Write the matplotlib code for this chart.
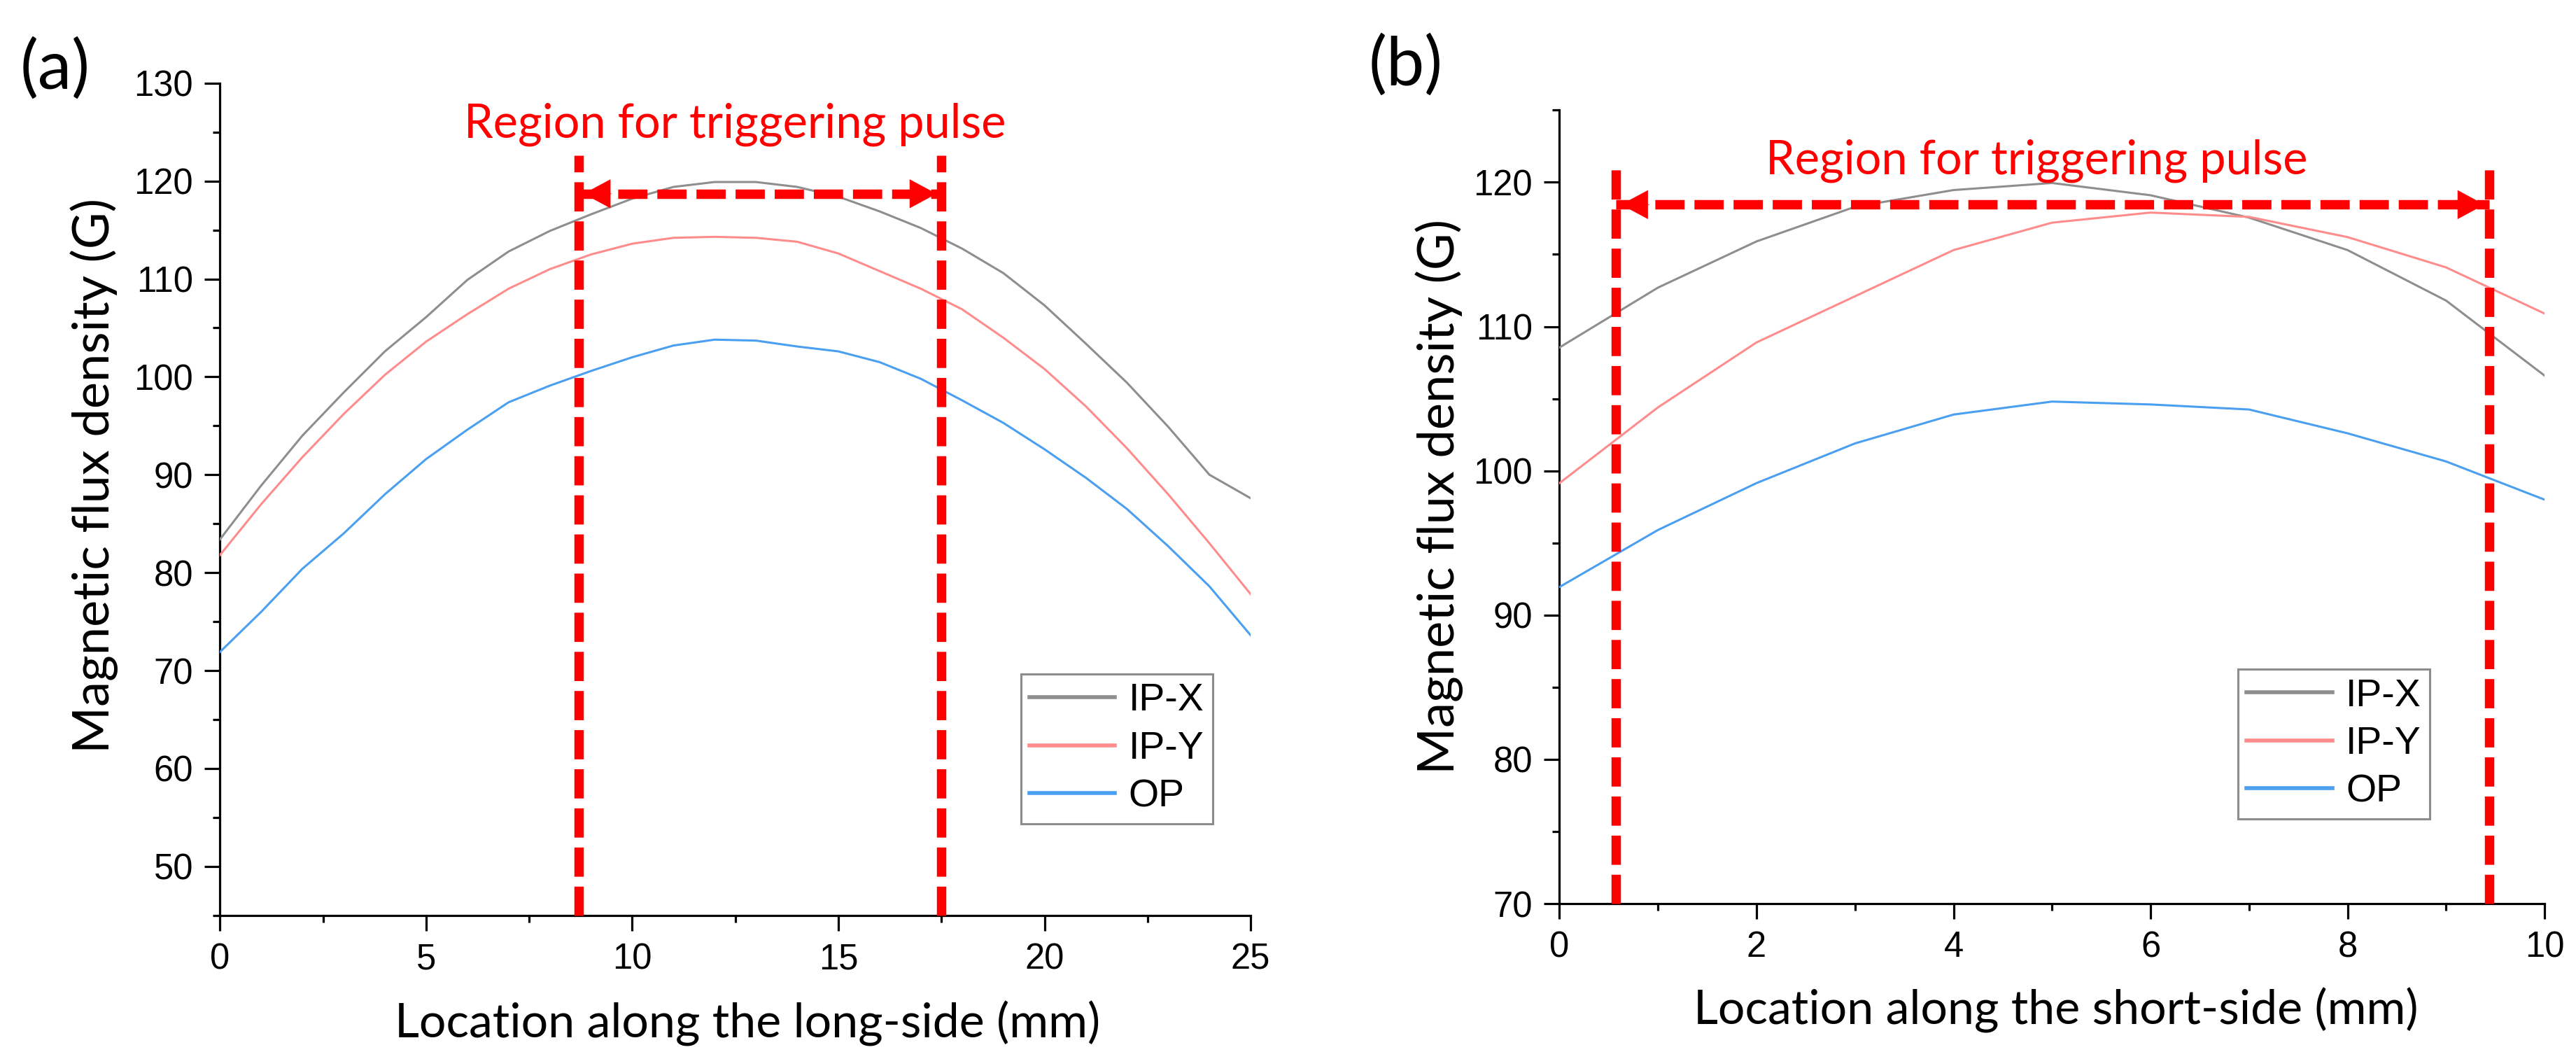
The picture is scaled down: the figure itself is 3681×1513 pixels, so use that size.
import matplotlib
matplotlib.use('Agg')
import matplotlib.pyplot as plt
from matplotlib.ticker import MultipleLocator

# ---- data ----
long_x = list(range(0, 26))
long_ipx = [83.4, 88.9, 94.0, 98.4, 102.6, 106.1, 109.9, 112.8, 114.9, 116.6, 118.2, 119.4, 119.9,
            119.9, 119.4, 118.4, 116.9, 115.2, 113.1, 110.6, 107.3, 103.4, 99.4, 94.9, 90.0, 87.6]
long_ipy = [81.8, 87.0, 91.8, 96.2, 100.2, 103.6, 106.4, 109.0, 111.0, 112.5, 113.6, 114.2, 114.3,
            114.2, 113.8, 112.6, 110.8, 109.0, 106.9, 104.0, 100.8, 97.0, 92.7, 88.0, 83.0, 77.8]
long_op = [71.9, 76.0, 80.4, 84.0, 88.0, 91.6, 94.6, 97.4, 99.1, 100.6, 102.0, 103.2, 103.8,
           103.7, 103.1, 102.6, 101.5, 99.8, 97.6, 95.3, 92.6, 89.7, 86.5, 82.7, 78.6, 73.6]

short_x = list(range(0, 11))
short_ipx = [108.55, 112.7, 115.9, 118.3, 119.46, 119.95, 119.1, 117.55, 115.3, 111.8, 106.6]
short_ipy = [99.15, 104.4, 108.9, 112.1, 115.3, 117.2, 117.9, 117.6, 116.2, 114.1, 110.9]
short_op = [91.95, 95.9, 99.15, 101.9, 103.9, 104.8, 104.6, 104.25, 102.6, 100.65, 98.0]

series_names = ['IP-X', 'IP-Y', 'OP']
series_colors = ['#8e8e8e', '#ff8c8c', '#4a9ff0']

# trigger region: left, right, arrow level, top of markers
region_long = [8.7, 17.5, 118.7, 122.6]
region_short = [0.575, 9.44, 118.45, 121.4]
region_text = 'Region for triggering pulse'

tick_font = 'Liberation Sans'
label_font = ['Lato', 'DejaVu Sans']
dash = (0, (3.1, 1.05))

fig = plt.figure(figsize=(36.81, 15.13), dpi=100)
ax_a = fig.add_axes([0.0854, 0.1357, 0.4001, 0.7858])
ax_b = fig.add_axes([0.6054, 0.1467, 0.3824, 0.7493])


def style_axes(ax, xlim, ylim, xmaj, xmin, ymaj, ymin):
    ax.set_xlim(*xlim)
    ax.set_ylim(*ylim)
    ax.xaxis.set_major_locator(MultipleLocator(xmaj))
    ax.xaxis.set_minor_locator(MultipleLocator(xmin))
    ax.yaxis.set_major_locator(MultipleLocator(ymaj))
    ax.yaxis.set_minor_locator(MultipleLocator(ymin))
    for s in ['top', 'right']:
        ax.spines[s].set_visible(False)
    for s in ['left', 'bottom']:
        ax.spines[s].set_linewidth(2.3)
    ax.tick_params(which='major', direction='out', length=15.6, width=2.3, pad=12)
    ax.tick_params(which='minor', direction='out', length=7.5, width=2.3)
    for lab in ax.get_xticklabels() + ax.get_yticklabels():
        lab.set_fontfamily(tick_font)
        lab.set_fontsize(36.5)


def draw_region(ax, region, text_x, text_y, ybottom):
    left, right, arrow_y, top = region
    for xv in (left, right):
        ax.plot([xv, xv], [ybottom, top], color='red', lw=9.7, linestyle=dash,
                solid_capstyle='butt', dash_capstyle='butt', zorder=4, clip_on=False)
    # dashed shaft, then solid heads at both ends
    ax.plot([left, right], [arrow_y, arrow_y], color='red', lw=9.7, linestyle=dash,
            dash_capstyle='butt', zorder=4)
    for tip, off in ((left, 34), (right, -34)):
        ax.annotate('', xy=(tip, arrow_y), xytext=(off, 0), textcoords='offset points',
                    arrowprops=dict(arrowstyle='-|>,head_length=2.7,head_width=1.45',
                                    mutation_scale=10, color='red', lw=0.5,
                                    shrinkA=0, shrinkB=5), zorder=5)
    ax.text(text_x, text_y, region_text, color='red', fontsize=48, family=label_font,
            ha='center', va='baseline')


def draw_panel(ax, x, ys, xlabel, leg_anchor):
    for y, name, c in zip(ys, series_names, series_colors):
        ax.plot(x, y, color=c, lw=2.2, label=name, zorder=3)
    ax.set_xlabel(xlabel, fontsize=49, family=label_font, va='center')
    ax.set_ylabel('Magnetic flux density (G)', fontsize=52, family=label_font, va='center')
    leg = ax.legend(loc='lower right', bbox_to_anchor=leg_anchor,
                    prop={'family': tick_font, 'size': 40}, frameon=True, fancybox=False,
                    handlelength=2.2, handletextpad=0.35, labelspacing=0.3, borderpad=0.22,
                    borderaxespad=0)
    leg.get_frame().set_edgecolor('#707070')
    leg.get_frame().set_linewidth(2.2)
    for line in leg.get_lines():
        line.set_linewidth(4)


# panel (a)
style_axes(ax_a, (0, 25), (45, 130), 5, 2.5, 10, 5)
draw_panel(ax_a, long_x, [long_ipx, long_ipy, long_op], 'Location along the long-side (mm)',
           (0.963, 0.110))
draw_region(ax_a, region_long, 12.5, 124.47, 45)
ax_a.yaxis.set_label_coords(-0.122, 0.528)
ax_a.xaxis.set_label_coords(0.512, -0.130)

# panel (b)
style_axes(ax_b, (0, 10), (70, 125), 2, 1, 10, 5)
draw_panel(ax_b, short_x, [short_ipx, short_ipy, short_op], 'Location along the short-side (mm)',
           (0.8835, 0.1067))
draw_region(ax_b, region_short, 4.84, 120.6, 70)
ax_b.yaxis.set_label_coords(-0.122, 0.513)
ax_b.xaxis.set_label_coords(0.504, -0.134)

fig.text(0.0215, 0.9346, '(a)', fontsize=70, family=label_font, ha='center', va='center')
fig.text(0.5456, 0.938, '(b)', fontsize=70, family=label_font, ha='center', va='center')

fig.savefig('out.png', dpi=100)
